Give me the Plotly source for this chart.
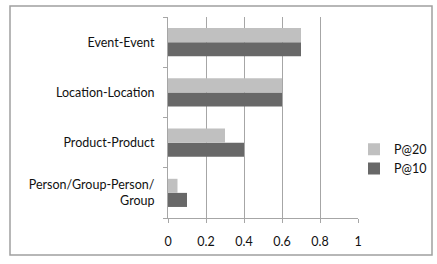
import plotly.graph_objects as go

categories = ["Person/Group-Person/<br>Group", "Product-Product", "Location-Location", "Event-Event"]
p10 = [0.1, 0.4, 0.6, 0.7]
p20 = [0.05, 0.3, 0.6, 0.7]
x_ticks = [0, 0.2, 0.4, 0.6, 0.8, 1]
x_tick_labels = ["0", "0.2", "0.4", "0.6", "0.8", "1"]

FONT = "Lato, Open Sans, sans-serif"

fig = go.Figure()
fig.add_trace(go.Bar(y=categories, x=p10, name="P@10", orientation="h",
                     marker=dict(color="#686868", line=dict(width=0))))
fig.add_trace(go.Bar(y=categories, x=p20, name="P@20", orientation="h",
                     marker=dict(color="#c0c0c0", line=dict(width=0))))

L, R, T, B = 168, 79, 17, 46
W, H = 437, 264
pw, ph = W - L - R, H - T - B

def px(x):
    return (x - L) / pw

def py(y):
    return (H - B - y) / ph

fig.update_layout(
    width=W, height=H,
    margin=dict(l=L, r=R, t=T, b=B, autoexpand=False),
    paper_bgcolor="white", plot_bgcolor="white",
    barmode="group", bargap=0.44, bargroupgap=0,
    font=dict(family=FONT, size=12.5, color="#111111"),
    legend=dict(x=px(354), y=py(159), xanchor="left", yanchor="middle",
                traceorder="reversed", font=dict(size=12.5),
                itemwidth=30, bgcolor="rgba(0,0,0,0)"),
    shapes=[dict(type="rect", xref="paper", yref="paper",
                 x0=px(10), x1=px(432), y0=py(255), y1=py(6),
                 line=dict(color="#a0a0a0", width=1.5), fillcolor="rgba(0,0,0,0)",
                 layer="below")],
    xaxis=dict(range=[0, 1], tickvals=x_ticks, ticktext=x_tick_labels,
               showgrid=True, gridcolor="#a6a6a6", gridwidth=1,
               showline=True, linecolor="#a6a6a6", linewidth=1,
               ticks="outside", ticklen=4, tickcolor="#a6a6a6",
               ticklabelstandoff=8, zeroline=False, fixedrange=True,
               automargin=False),
    yaxis=dict(showline=True, linecolor="#a6a6a6", linewidth=1,
               ticks="outside", ticklen=4, tickcolor="#a6a6a6",
               tickson="boundaries", ticklabelstandoff=10,
               showgrid=False, fixedrange=True, automargin=False),
)

fig.write_html("out.html", config={"displayModeBar": False},
               post_script="document.body.style.margin='0';document.body.style.overflow='hidden';")
